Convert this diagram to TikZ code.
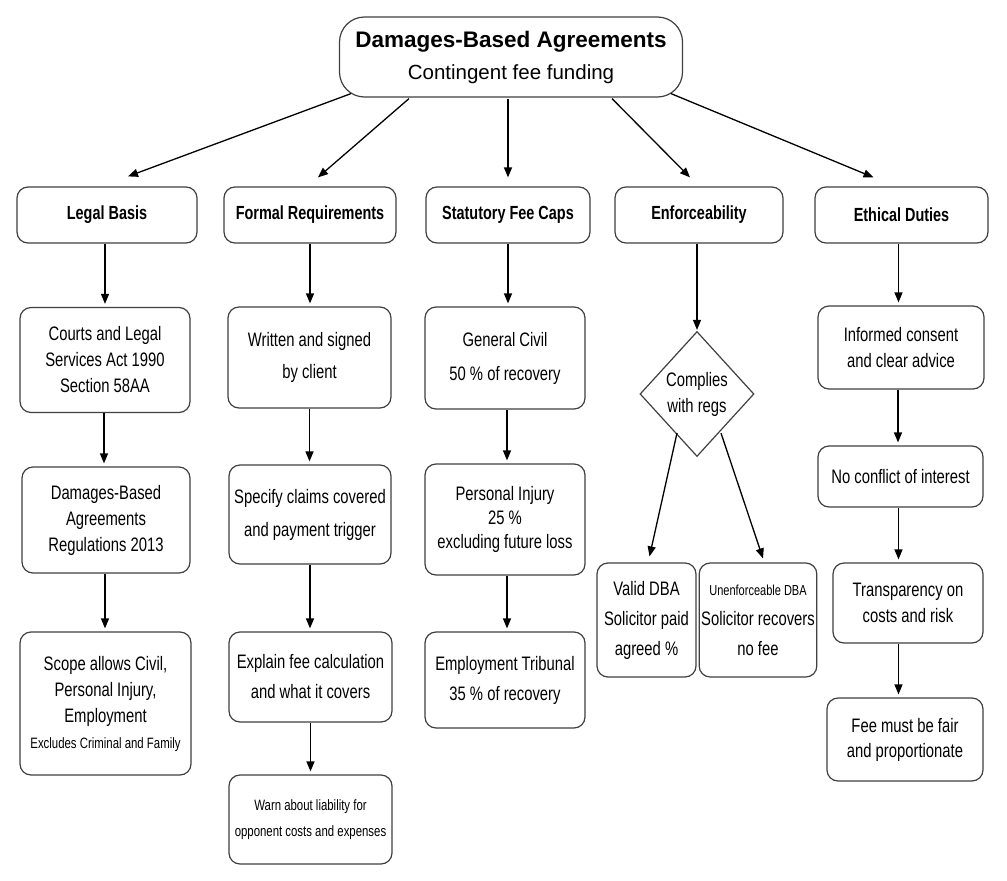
\documentclass[tikz,border=0pt]{standalone}
\usepackage{fontspec}
\setmainfont{Liberation Sans}[FakeStretch=0.76]
\newfontfamily\titlefont{Liberation Sans}
\usetikzlibrary{shapes.geometric,arrows.meta}

\begin{document}
\begin{tikzpicture}[x=1pt,y=-1pt]
    \tikzstyle{box}=[draw=black!75,line width=1.2pt,rounded corners=11pt,align=center,inner sep=2pt,text=black,font=\fontsize{19.5}{26}\selectfont]
    \tikzstyle{cat}=[box,minimum height=56pt,font=\bfseries\fontsize{19}{20}\selectfont]
    \tikzstyle{arr}=[-{Triangle[length=10pt,width=8pt]},line width=1.3pt]
    \tikzstyle{down}=[arr,shorten >=3pt]
    \useasboundingbox[fill=white] (0,0) rectangle (1007,881);
    % root
    \node[box,rounded corners=25pt,minimum width=343pt,minimum height=80pt,font=\titlefont\fontsize{20.5}{32}\selectfont] (root) at (511,57)
      {{\bfseries\fontsize{22.5}{27}\selectfont Damages-Based Agreements}\\Contingent fee funding};
    % categories
    \node[cat,minimum width=180pt] (legal) at (107,215) {Legal Basis};
    \node[cat,minimum width=172pt] (formal) at (310,215) {Formal Requirements};
    \node[cat,minimum width=164pt] (caps) at (508,215) {Statutory Fee Caps};
    \node[cat,minimum width=168pt] (enf) at (699,215) {Enforceability};
    \node[cat,minimum width=173pt] (ethics) at (901.5,215) {Ethical Duties};
    % legal basis
    \node[box,minimum width=170pt,minimum height=105pt] (courts) at (105,360) {Courts and Legal\\Services Act 1990\\Section 58AA};
    \node[box,minimum width=168pt,minimum height=106pt] (regs) at (106,520) {Damages-Based\\Agreements\\Regulations 2013};
    \node[box,minimum width=171pt,minimum height=143pt] (scope) at (105.5,703.5) {Scope allows Civil,\\Personal Injury,\\Employment\\{\fontsize{15}{26}\selectfont Excludes Criminal and Family}};
    % formal requirements
    \node[box,minimum width=163pt,minimum height=101pt,font=\fontsize{19.5}{32}\selectfont] (written) at (309.5,357.5) {Written and signed\\by client};
    \node[box,minimum width=162pt,minimum height=99pt,font=\fontsize{19.5}{33}\selectfont] (specify) at (310,514.5) {Specify claims covered\\and payment trigger};
    \node[box,minimum width=163pt,minimum height=90pt,font=\fontsize{19.5}{30}\selectfont] (explain) at (310.5,677) {Explain fee calculation\\and what it covers};
    \node[box,minimum width=163pt,minimum height=89pt,font=\fontsize{15}{26}\selectfont] (warn) at (310.5,819.5) {Warn about liability for\\opponent costs and expenses};
    % fee caps
    \node[box,minimum width=160pt,minimum height=102pt,font=\fontsize{19.5}{34}\selectfont] (civil) at (505,358) {General Civil\\50 \% of recovery};
    \node[box,minimum width=160pt,minimum height=111pt,font=\fontsize{19.5}{24}\selectfont] (injury) at (505,519.5) {Personal Injury\\25 \%\\excluding future loss};
    \node[box,minimum width=160pt,minimum height=96pt,font=\fontsize{19.5}{30}\selectfont] (tribunal) at (505,680) {Employment Tribunal\\35 \% of recovery};
    % enforceability
    \node[draw=black!75,line width=1.2pt,diamond,aspect=0.9,minimum width=114pt,minimum height=125pt,inner sep=0pt,align=center,text=black,font=\fontsize{19.5}{26}\selectfont] (regok) at (697,394) {Complies\\with regs};
    \node[box,minimum width=99pt,minimum height=114pt,font=\fontsize{19.5}{30}\selectfont] (valid) at (646.5,620) {Valid DBA\\Solicitor paid\\agreed \%};
    \node[box,minimum width=102pt,minimum height=114pt,font=\fontsize{19.5}{30}\selectfont] (unenf) at (758,620) {{\fontsize{14.5}{16}\selectfont Unenforceable DBA}\\Solicitor recovers\\no fee};
    % ethical duties
    \node[box,minimum width=166pt,minimum height=83pt] (informed) at (901,347.5) {Informed consent\\and clear advice};
    \node[box,minimum width=165pt,minimum height=61pt] (noconf) at (900.5,476.5) {No conflict of interest};
    \node[box,minimum width=150pt,minimum height=80pt] (transp) at (908,603) {Transparency on\\costs and risk};
    \node[box,minimum width=156pt,minimum height=83pt,font=\fontsize{19.5}{25}\selectfont] (fair) at (905,739.5) {Fee must be fair\\and proportionate};
    % root to categories
    \draw[arr] ([xshift=-160pt,yshift=4pt]root.south) -- ([xshift=21pt,yshift=10pt]legal.north);
    \draw[arr] ([xshift=-102pt,yshift=-1pt]root.south) -- ([xshift=8pt,yshift=9pt]formal.north);
    \draw[arr] ([xshift=-3pt,yshift=-1pt]root.south) -- ([yshift=9pt]caps.north);
    \draw[arr] ([xshift=101pt,yshift=-1pt]root.south) -- ([xshift=-9pt,yshift=9pt]enf.north);
    \draw[arr] ([xshift=160pt,yshift=4pt]root.south) -- ([xshift=-28pt,yshift=9pt]ethics.north);
    % columns
    \draw[down] ([xshift=-2pt]legal.south) -- ([xshift=-2pt]legal.south |- courts.north);
    \draw[down] ([xshift=-1pt]courts.south) -- ([xshift=-1pt]courts.south |- regs.north);
    \draw[down] ([xshift=-1pt]regs.south) -- ([xshift=-1pt]regs.south |- scope.north);
    \draw[down] (formal.south) -- (formal.south |- written.north);
    \draw[down] (written.south) -- (written.south |- specify.north);
    \draw[down] (specify.south) -- (specify.south |- explain.north);
    \draw[down] (explain.south) -- (explain.south |- warn.north);
    \draw[down] (caps.south) -- (caps.south |- civil.north);
    \draw[down] ([xshift=2pt]civil.south) -- ([xshift=2pt]civil.south |- injury.north);
    \draw[down] ([xshift=2pt]injury.south) -- ([xshift=2pt]injury.south |- tribunal.north);
    \draw[arr] ([xshift=-2pt]enf.south) -- ([xshift=-2pt,yshift=1pt]enf.south |- regok.north);
    \draw[arr] ([xshift=-20pt,yshift=24pt]regok.south) -- ([xshift=3pt,yshift=6pt]valid.north);
    \draw[arr] ([xshift=24pt,yshift=24pt]regok.south) -- ([xshift=5pt,yshift=4pt]unenf.north);
    \draw[down] ([xshift=-3pt]ethics.south) -- ([xshift=-3pt]ethics.south |- informed.north);
    \draw[down] ([xshift=-3pt]informed.south) -- ([xshift=-3pt]informed.south |- noconf.north);
    \draw[down] ([xshift=-2pt]noconf.south) -- ([xshift=-2pt]noconf.south |- transp.north);
    \draw[down] ([xshift=-2pt]noconf.south |- transp.south) -- ([xshift=-2pt]noconf.south |- fair.north);
\end{tikzpicture}
\end{document}
